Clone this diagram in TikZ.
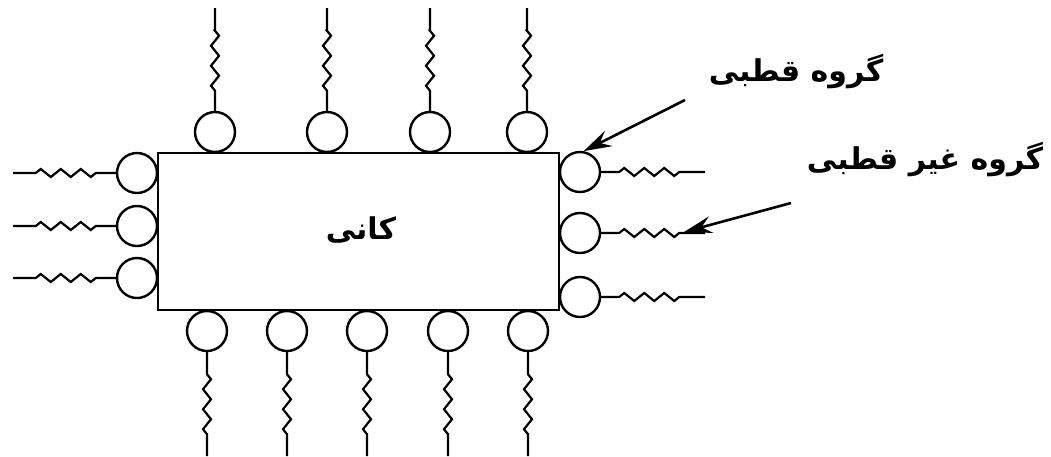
\documentclass[tikz,border=0pt]{standalone}
\usepackage{fontspec}
\newfontfamily\arabicfont[Script=Arabic]{DejaVu Sans}
\TeXXeTstate=1
\usetikzlibrary{decorations.pathmorphing,arrows.meta}
\begin{document}
\begin{tikzpicture}[x=1pt,y=-1pt,
  line width=2.4pt,
  ball/.style={circle,draw,line width=2.4pt,minimum size=40pt,inner sep=0pt},
  zz/.style={line width=2.2pt,decoration={zigzag,segment length=20pt,amplitude=4pt}},
  lbl/.style={font=\arabicfont\bfseries\fontsize{30}{34}\selectfont,inner sep=0pt},
  pointer/.style={-{Stealth[length=28pt,width=17pt,inset=10pt]},line width=2.6pt}]
\useasboundingbox (0,0) rectangle (1051,456);
% core
\node[draw,line width=2.4pt,minimum width=401pt,minimum height=157pt,inner sep=0pt] (core) at (358.5,231.5) {};
\node[lbl] (kani) at (361,230) {\beginR کانی\endR};
% top
\foreach \i/\x in {1/215,2/327,3/430,4/527}{
  \node[ball] (t\i) at (\x,132) {};
  \coordinate (te\i) at (\x,8);
  \draw[zz] (t\i.north) -- ++(0,-20) decorate{-- ++(0,-60)} -- (te\i);
}
% bottom
\foreach \i/\x in {1/207,2/287,3/367,4/448,5/528}{
  \node[ball] (b\i) at (\x,331) {};
  \coordinate (be\i) at (\x,456);
  \draw[zz] (b\i.south) -- ++(0,22) decorate{-- ++(0,60)} -- (be\i);
}
% left
\foreach \i/\y in {1/173,2/226,3/278}{
  \node[ball] (l\i) at (137,\y) {};
  \coordinate (le\i) at (13,\y);
  \draw[zz] (l\i.west) -- ++(-20,0) decorate{-- ++(-60,0)} -- (le\i);
}
% right
\foreach \i/\y in {1/172,2/233,3/297}{
  \node[ball] (r\i) at (580,\y) {};
  \coordinate (re\i) at (705,\y);
  \draw[zz] (r\i.east) -- ++(18,0) decorate{-- ++(60,0)} -- (re\i);
}
% labels
\node[lbl] (polar) at (796,72) {\beginR گروه قطبی\endR};
\node[lbl] (nonpolar) at (925,160) {\beginR گروه غیر قطبی\endR};
\coordinate (pa) at (685,100);
\coordinate (na) at (791,203);
\coordinate (ntip) at (684,232);
\draw[pointer] (pa) -- (r1.80);
\draw[pointer] (na) -- (ntip);
\end{tikzpicture}
\end{document}
